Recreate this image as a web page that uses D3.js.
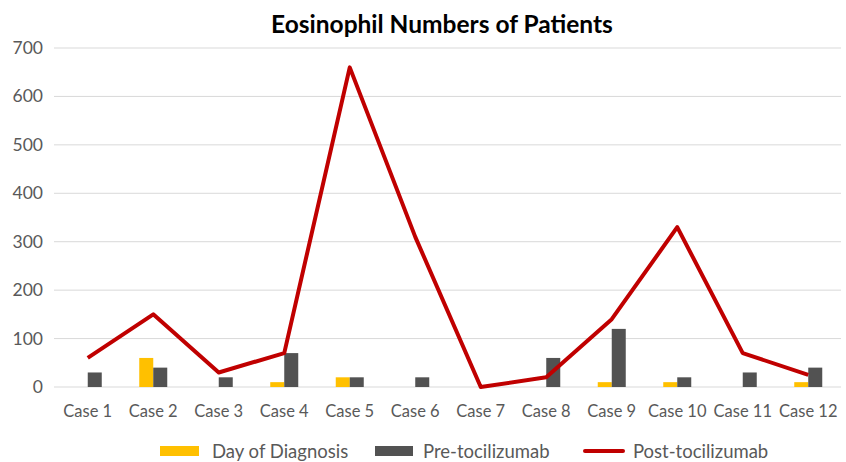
<!DOCTYPE html>
<html>
<head>
<meta charset="utf-8">
<script src="https://cdn.jsdelivr.net/npm/d3@7"></script>
<style>
  body { margin: 0; background: #fff; }
  text { font-family: Lato, "Open Sans", sans-serif; }
</style>
</head>
<body>
<script>
const cases = ["Case 1","Case 2","Case 3","Case 4","Case 5","Case 6","Case 7","Case 8","Case 9","Case 10","Case 11","Case 12"];
const dayOfDiagnosis = [0, 60, 0, 10, 20, 0, 0, 0, 10, 10, 0, 10];
const preTocilizumab = [30, 40, 20, 70, 20, 20, 0, 60, 120, 20, 30, 40];
const postTocilizumab = [60, 150, 30, 70, 660, 310, 0, 20, 140, 330, 70, 25];
const yTicks = [0, 100, 200, 300, 400, 500, 600, 700];

const w = 846, h = 462;
const svg = d3.select("body").append("svg").attr("width", w).attr("height", h);

const x = d3.scaleBand().domain(cases).range([55, 841]);
const y = d3.scaleLinear().domain([0, 700]).range([387, 48]);
const barW = 14;

// gridlines
svg.append("g").selectAll("line").data(yTicks).join("line")
  .attr("x1", 54).attr("x2", 841)
  .attr("y1", d => y(d)).attr("y2", d => y(d))
  .attr("stroke", "#d9d9d9").attr("stroke-width", 1);

// y tick labels
svg.append("g").selectAll("text").data(yTicks).join("text")
  .attr("x", 43).attr("y", d => y(d) + 6)
  .attr("text-anchor", "end").attr("font-size", 17.5).attr("fill", "#595959")
  .text(d => d);

// x labels
svg.append("g").selectAll("text").data(cases).join("text")
  .attr("x", d => x(d) + x.bandwidth() / 2).attr("y", 417)
  .attr("text-anchor", "middle").attr("font-size", 16.5).attr("fill", "#595959")
  .text(d => d);

// bars
svg.append("g").selectAll("rect").data(cases).join("rect")
  .attr("x", d => x(d) + x.bandwidth() / 2 - barW)
  .attr("width", barW)
  .attr("y", (d, i) => y(dayOfDiagnosis[i]))
  .attr("height", (d, i) => y(0) - y(dayOfDiagnosis[i]))
  .attr("fill", "#ffc000");

svg.append("g").selectAll("rect").data(cases).join("rect")
  .attr("x", d => x(d) + x.bandwidth() / 2)
  .attr("width", barW)
  .attr("y", (d, i) => y(preTocilizumab[i]))
  .attr("height", (d, i) => y(0) - y(preTocilizumab[i]))
  .attr("fill", "#525252");

// line
const line = d3.line()
  .x((d, i) => x(cases[i]) + x.bandwidth() / 2)
  .y(d => y(d));
svg.append("path").datum(postTocilizumab)
  .attr("fill", "none").attr("stroke", "#c00000").attr("stroke-width", 4)
  .attr("stroke-linejoin", "round")
  .attr("d", line);

// title
svg.append("text").attr("x", 442).attr("y", 33)
  .attr("text-anchor", "middle").attr("font-size", 24.5).attr("font-weight", "bold")
  .attr("fill", "#000").text("Eosinophil Numbers of Patients");

// legend
const legend = svg.append("g");
legend.append("rect").attr("x", 160).attr("y", 446).attr("width", 39).attr("height", 10).attr("fill", "#ffc000");
legend.append("text").attr("x", 212).attr("y", 458).attr("font-size", 18.5).attr("fill", "#595959").text("Day of Diagnosis");
legend.append("rect").attr("x", 375).attr("y", 446).attr("width", 38).attr("height", 10).attr("fill", "#525252");
legend.append("text").attr("x", 423).attr("y", 458).attr("font-size", 18.5).attr("fill", "#595959").text("Pre-tocilizumab");
legend.append("line").attr("x1", 585).attr("x2", 623).attr("y1", 451).attr("y2", 451)
  .attr("stroke", "#c00000").attr("stroke-width", 4).attr("stroke-linecap", "round");
legend.append("text").attr("x", 633).attr("y", 458).attr("font-size", 18.5).attr("fill", "#595959").text("Post-tocilizumab");
</script>
</body>
</html>
